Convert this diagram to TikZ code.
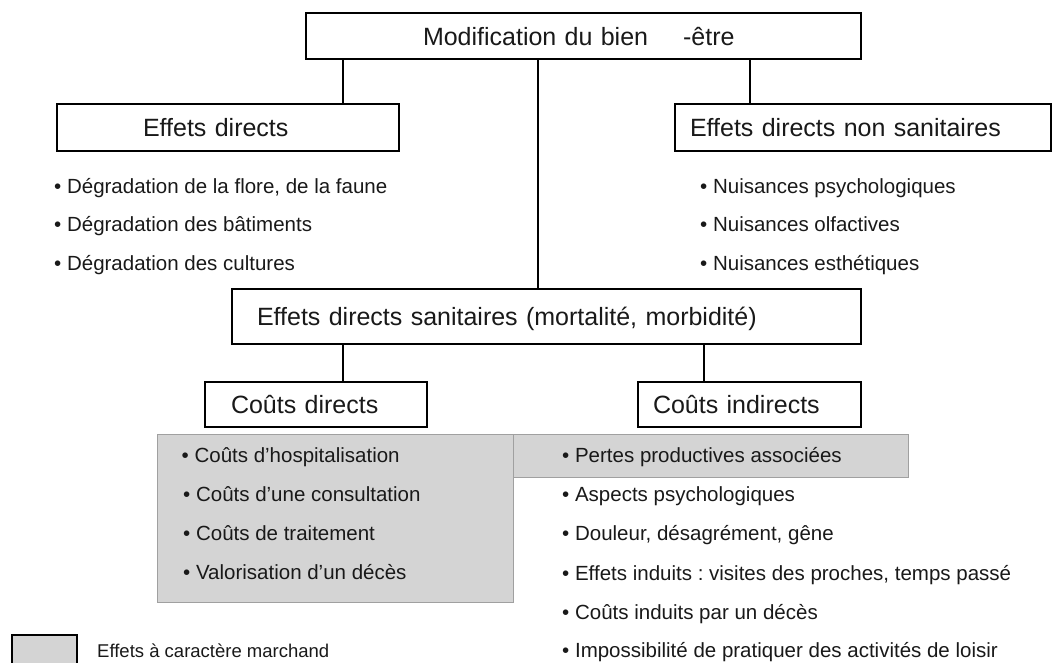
\documentclass[tikz,border=0pt]{standalone}
\usepackage{fontspec}
\setmainfont{Liberation Sans}
\frenchspacing
\definecolor{mgray}{RGB}{212,212,212}
\definecolor{mborder}{RGB}{160,160,160}
\definecolor{ink}{RGB}{25,25,25}
\begin{document}
\begin{tikzpicture}[x=1pt,y=-1pt,
  box/.style={draw=black, line width=1.6pt, fill=white, inner xsep=0pt, inner ysep=0pt,
    align=left, text=ink, font=\fontsize{25}{30}\selectfont, text height=22pt, text depth=4pt},
  conn/.style={line width=1.6pt},
  item/.style={anchor=base west, inner sep=0pt, text=ink, font=\fontsize{20.5}{24}\selectfont},
  graybox/.style={fill=mgray, draw=mborder, line width=1pt},
  legtext/.style={anchor=base west, inner sep=0pt, text=ink, font=\fontsize{18.5}{22}\selectfont}]
\useasboundingbox (0,0) rectangle (1053,662);

% boxes
\node[box, text width=555pt, minimum height=46pt] (modif) at (583.5,36)
  {\noindent\hspace*{117pt}Modification du bien\hspace{35pt}-être};
\node[box, text width=342pt, minimum height=47pt] (ed) at (228,127.5)
  {\noindent\hspace*{86pt}Effets directs};
\node[box, text width=376pt, minimum height=47pt] (ens) at (863,127.5)
  {\noindent\hspace*{15pt}Effets directs non sanitaires};
\node[box, text width=629pt, minimum height=55pt] (eds) at (546.5,316.5)
  {\noindent\hspace*{25pt}Effets directs sanitaires (mortalité, morbidité)};
\node[box, text width=222pt, minimum height=45pt] (cd) at (316,404.5)
  {\noindent\hspace*{26pt}Coûts directs};
\node[box, text width=223pt, minimum height=45pt] (ci) at (749.5,404.5)
  {\noindent\hspace*{15pt}Coûts indirects};

% connectors
\coordinate (xa) at (343,0);
\coordinate (xb) at (538,0);
\coordinate (xc) at (750,0);
\coordinate (xd) at (343,0);
\coordinate (xe) at (704,0);
\draw[conn] (modif.south -| xa) -- (ed.north -| xa);
\draw[conn] (modif.south -| xb) -- (eds.north -| xb);
\draw[conn] (modif.south -| xc) -- (ens.north -| xc);
\draw[conn] (eds.south -| xd) -- (cd.north -| xd);
\draw[conn] (eds.south -| xe) -- (ci.north -| xe);

% left list
\node[item] (l1) at (54,193) {• Dégradation de la flore, de la faune};
\node[item] (l2) at (54,231.5) {• Dégradation des bâtiments};
\node[item] (l3) at (54,270) {• Dégradation des cultures};

% right list
\node[item] (r1) at (700,193) {• Nuisances psychologiques};
\node[item] (r2) at (700,231.5) {• Nuisances olfactives};
\node[item] (r3) at (700,270) {• Nuisances esthétiques};

% gray areas
\path[graybox] (513,434) rectangle (908,477);
\path[graybox] (157,434) rectangle (513,602);

% direct costs list
\node[item] (c1) at (181.5,462.7) {• Coûts d’hospitalisation};
\node[item] (c2) at (183,501.7) {• Coûts d’une consultation};
\node[item] (c3) at (183,540.5) {• Coûts de traitement};
\node[item] (c4) at (183,579) {• Valorisation d’un décès};

% indirect costs list
\node[item] (i1) at (562,462.7) {• Pertes productives associées};
\node[item] (i2) at (562,501.7) {• Aspects psychologiques};
\node[item] (i3) at (562,540.7) {• Douleur, désagrément, gêne};
\node[item] (i4) at (562,580) {• Effets induits : visites des proches, temps passé};
\node[item] (i5) at (562,619) {• Coûts induits par un décès};
\node[item] (i6) at (562,657.3) {• Impossibilité de pratiquer des activités de loisir};

% legend
\draw[line width=1.6pt, fill=mgray] (12,635) rectangle (77,672);
\node[legtext] (leg) at (97,657.3) {Effets à caractère marchand};
\end{tikzpicture}
\end{document}
